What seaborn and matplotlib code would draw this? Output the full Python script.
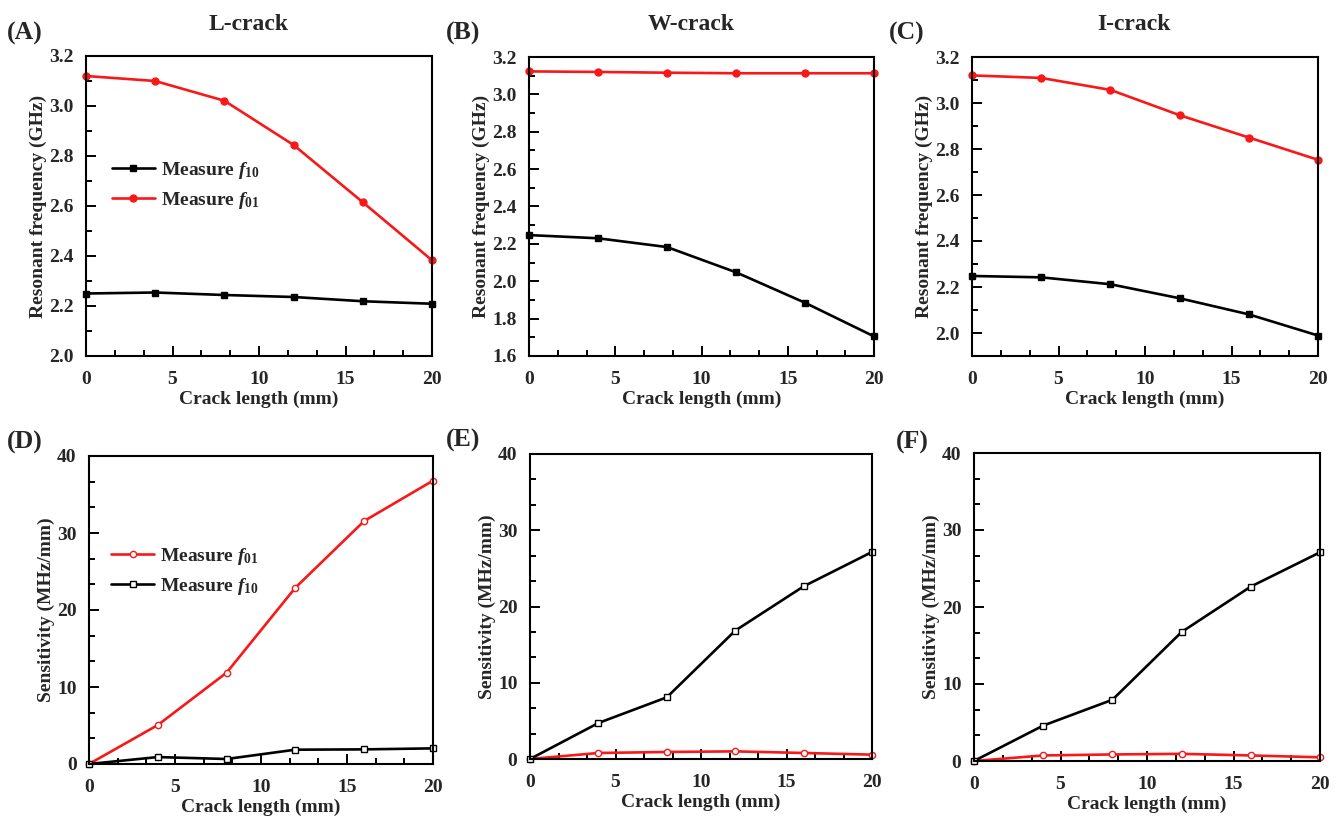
import matplotlib
matplotlib.use("Agg")
import matplotlib.pyplot as plt
import seaborn as sns
import pandas as pd
from matplotlib.ticker import MultipleLocator, AutoMinorLocator, FormatStrFormatter

# Crack lengths (mm)
crack_length = [0, 4, 8, 12, 16, 20]

# Resonant frequencies (GHz)
l_f10 = [2.250, 2.254, 2.244, 2.236, 2.219, 2.209]
l_f01 = [3.120, 3.100, 3.021, 2.844, 2.615, 2.383]
w_f10 = [2.247, 2.230, 2.183, 2.048, 1.885, 1.705]
w_f01 = [3.123, 3.120, 3.116, 3.113, 3.113, 3.113]
i_f10 = [2.248, 2.242, 2.212, 2.151, 2.081, 1.989]
i_f01 = [3.120, 3.109, 3.057, 2.947, 2.850, 2.753]

# Sensitivities (MHz/mm)
l_s01 = [0.0, 5.06, 11.86, 22.9, 31.56, 36.8]
l_s10 = [0.0, 0.90, 0.65, 1.86, 1.90, 2.03]
w_s10 = [0.0, 4.72, 8.09, 16.83, 22.64, 27.15]
w_s01 = [0.0, 0.79, 0.92, 1.00, 0.79, 0.57]
i_s10 = [0.0, 4.60, 7.95, 16.75, 22.65, 27.10]
i_s01 = [0.0, 0.72, 0.85, 0.93, 0.72, 0.48]

panel_titles = ["L-crack", "W-crack", "I-crack"]
panel_tags = ["(A)", "(B)", "(C)", "(D)", "(E)", "(F)"]
label_f10 = r"Measure $f_{10}$"
label_f01 = r"Measure $f_{01}$"

RED = "#f81818"
BLACK = "#000000"

sns.set_theme(style="ticks")
plt.rcParams.update({
    "font.family": ["Liberation Serif", "DejaVu Serif"],
    "font.weight": "bold",
    "axes.labelweight": "bold",
    "mathtext.fontset": "custom",
    "mathtext.rm": "Liberation Serif:bold",
    "mathtext.it": "Liberation Serif:bold:italic",
    "mathtext.bf": "Liberation Serif:bold",
    "axes.linewidth": 1.5,
    "axes.edgecolor": "black",
})

W, H = 1341, 819
fig = plt.figure(figsize=(W / 100, H / 100), dpi=100)


def add_axes_px(left, right, top, bottom):
    return fig.add_axes([left / W, 1 - bottom / H, (right - left) / W, (bottom - top) / H])


def style_axes(ax, ylim, ymajor, yfmt, ylabel):
    ax.set_xlim(0, 20)
    ax.set_ylim(*ylim)
    ax.xaxis.set_major_locator(MultipleLocator(5))
    ax.xaxis.set_minor_locator(AutoMinorLocator(3))
    ax.yaxis.set_major_locator(MultipleLocator(ymajor))
    ax.yaxis.set_minor_locator(AutoMinorLocator(2 if ymajor < 1 else 3))
    ax.yaxis.set_major_formatter(FormatStrFormatter(yfmt))
    ax.tick_params(which="both", direction="in", top=False, right=False,
                   labelsize=14, width=1.4, color="black")
    ax.tick_params(which="major", length=7.5)
    ax.tick_params(which="minor", length=4)
    ax.tick_params(axis="x", pad=11)
    ax.tick_params(axis="y", pad=9)
    for lab in ax.get_xticklabels() + ax.get_yticklabels():
        lab.set_fontweight("bold")
    ax.set_xlabel("Crack length (mm)", fontsize=14, fontweight="bold", labelpad=1.5)
    ax.set_ylabel(ylabel, fontsize=14, fontweight="bold", labelpad=1.5)
    for s in ax.spines.values():
        s.set_visible(True)
        s.set_linewidth(1.5)
        s.set_color("black")


def draw_series(ax, y, color, marker, filled, label):
    df = pd.DataFrame({"x": crack_length, "y": y})
    sns.lineplot(data=df, x="x", y="y", ax=ax, color=color, marker=marker,
                 markersize=5 if filled else 4.5, linewidth=1.9,
                 markerfacecolor=color if filled else "white",
                 markeredgecolor=color, markeredgewidth=1.0,
                 label=label, clip_on=False, legend=False)


top_boxes = [(86, 432, 56, 356), (529, 874, 57, 356), (972, 1318, 57, 356)]
bot_boxes = [(89, 433, 456, 764), (530, 872, 454, 759), (974, 1320, 453, 761)]

freq_data = [(l_f10, l_f01), (w_f10, w_f01), (i_f10, i_f01)]
freq_lims = [(2.0, 3.2), (1.6, 3.2), (1.9, 3.2)]
sens_data = [(l_s10, l_s01), (w_s10, w_s01), (i_s10, i_s01)]

top_axes = []
for box, (f10, f01), lim in zip(top_boxes, freq_data, freq_lims):
    ax = add_axes_px(*box)
    draw_series(ax, f10, BLACK, "s", True, label_f10)
    draw_series(ax, f01, RED, "o", True, label_f01)
    style_axes(ax, lim, 0.2, "%.1f", "Resonant frequency (GHz)")
    top_axes.append(ax)

bot_axes = []
for box, (s10, s01) in zip(bot_boxes, sens_data):
    ax = add_axes_px(*box)
    draw_series(ax, s01, RED, "o", False, label_f01)
    draw_series(ax, s10, BLACK, "s", False, label_f10)
    style_axes(ax, (0, 40), 10, "%d", "Sensitivity (MHz/mm)")
    bot_axes.append(ax)

# Legends in the first column
leg_kw = dict(frameon=False, fontsize=14, handlelength=2.2, handletextpad=0.3,
              labelspacing=0.45, borderpad=0, borderaxespad=0, loc="center left")
h, l = top_axes[0].get_legend_handles_labels()
top_axes[0].legend(h, l, bbox_to_anchor=(0.075, 0.569), **leg_kw)
h, l = bot_axes[0].get_legend_handles_labels()
bot_axes[0].legend(h, l, bbox_to_anchor=(0.065, 0.626), **leg_kw)

# Column titles and panel tags
for (l_, r_, t_, b_), title in zip(top_boxes, panel_titles):
    fig.text((l_ + r_) / 2 / W - 0.008, 1 - 24 / H, title, ha="center", va="center",
             fontsize=17, fontweight="bold")

tag_pos = [(7, 33), (446, 33), (889, 33), (7, 442), (446, 440), (896, 442)]
for (x, y), tag in zip(tag_pos, panel_tags):
    fig.text(x / W, 1 - y / H, tag, ha="left", va="center", fontsize=18.5, fontweight="bold")

fig.savefig("out.png", dpi=100, facecolor="white")
